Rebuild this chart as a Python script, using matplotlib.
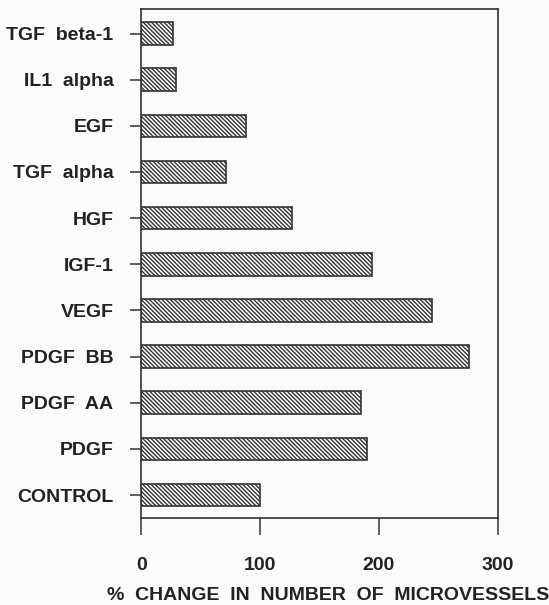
import numpy as np
import matplotlib.pyplot as plt

plt.rcParams['font.family'] = ['Liberation Sans', 'DejaVu Sans']
plt.rcParams['hatch.linewidth'] = 1.0
plt.rcParams['hatch.color'] = '#333333'

#%% data

factors = ['CONTROL', 'PDGF', 'PDGF  AA', 'PDGF  BB', 'VEGF', 'IGF-1',
           'HGF', 'TGF  alpha', 'EGF', 'IL1  alpha', 'TGF  beta-1']
pct_change = [100, 190, 185, 276, 245, 194, 127, 71, 88, 29, 27]

xticks = [0, 100, 200, 300]

#%% plot

fig = plt.figure(figsize=(5.49, 6.05), dpi=100)
fig.patch.set_facecolor('#fbfbfb')
ax = fig.add_axes([0.2574, 0.1443, 0.6492, 0.8400])
ax.set_facecolor('#fbfbfb')

ypos = np.arange(len(factors))
ax.barh(ypos, pct_change, height=0.49, color='white', edgecolor='#333333',
        hatch='\\\\\\\\\\\\\\\\', linewidth=1.2)

ax.set_xlim(0, 300)
ax.set_ylim(-0.49, 10.52)
ax.set_xticks(xticks)
ax.set_xticklabels([str(t) for t in xticks])
ax.set_yticks(ypos)
ax.set_yticklabels(factors)

for s in ax.spines.values():
    s.set_linewidth(1.2)
    s.set_color('#333333')

ax.tick_params(axis='y', direction='out', length=8, width=1.1, pad=12,
               labelsize=14, colors='#333333', labelcolor='#222222')
ax.tick_params(axis='x', direction='out', length=12, width=1.1, pad=16,
               labelsize=14, colors='#333333', labelcolor='#222222')
for lbl in ax.get_xticklabels() + ax.get_yticklabels():
    lbl.set_fontweight('bold')

fig.text(0.598, 0.0165, '%  CHANGE  IN  NUMBER  OF  MICROVESSELS', ha='center',
         va='center', fontsize=14, fontweight='bold', color='#222222')

fig.savefig('out.png', dpi=100, facecolor=fig.get_facecolor())
